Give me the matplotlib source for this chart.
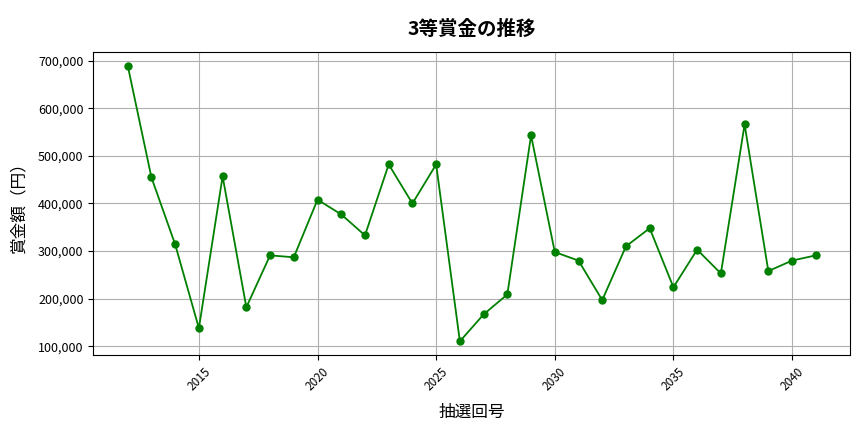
import matplotlib
matplotlib.use('Agg')
from matplotlib import pyplot as plt
from matplotlib.ticker import FuncFormatter

plt.rcParams['font.family'] = ['Noto Sans CJK JP', 'DejaVu Sans']

draws = list(range(2012, 2042))
prizes = [689500, 454600, 314000, 138000, 457000, 182000, 291000, 287000,
          408000, 377000, 333000, 482000, 400000, 482000, 110500, 167000,
          209000, 543000, 298000, 280000, 197000, 310000, 348000, 224000,
          303000, 253000, 566000, 258000, 280000, 291000]

fig = plt.figure(figsize=(8.64, 4.32), dpi=100)
ax = fig.add_axes([0.108, 0.178, 0.876, 0.702])

ax.plot(draws, prizes, color='green', marker='o', markersize=5, linewidth=1.3)

ax.set_title('3等賞金の推移', fontsize=14, fontweight='bold', pad=12)
ax.set_xlabel('抽選回号', fontsize=12, labelpad=8)
ax.set_ylabel('賞金額（円）', fontsize=12, labelpad=8)
ax.yaxis.set_major_formatter(FuncFormatter(lambda v, p: f'{int(v):,}'))
ax.tick_params(axis='x', labelrotation=45, labelsize=8.5)
ax.tick_params(axis='y', labelsize=9)
ax.grid(True, color='#b0b0b0', linewidth=0.8)

fig.savefig('out.png', dpi=100)
